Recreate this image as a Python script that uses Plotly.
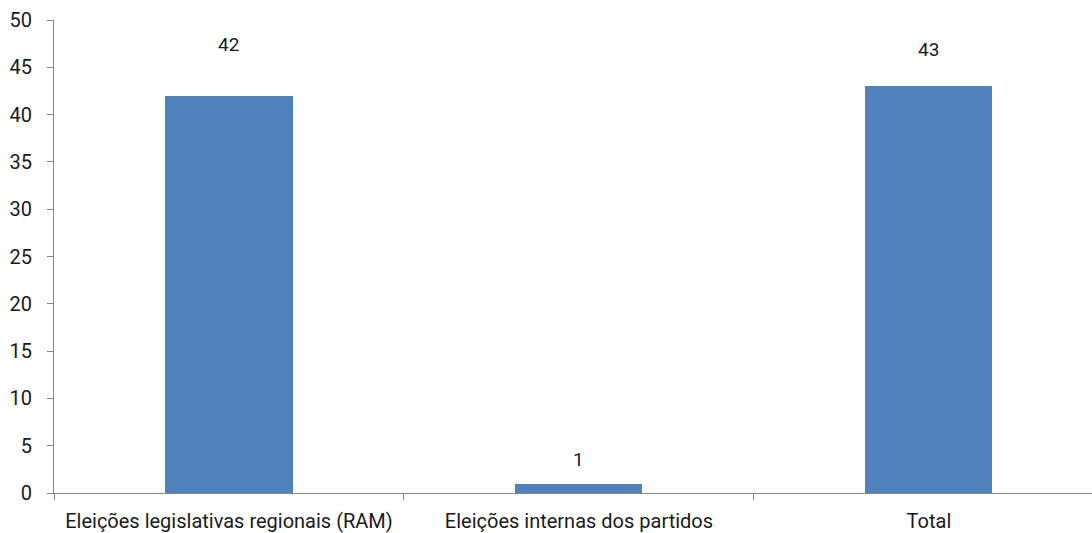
import plotly.graph_objects as go

# Number of cases per election type
categories = ["Eleições legislativas regionais (RAM)", "Eleições internas dos partidos", "Total"]
values = [42, 1, 43]

# vertical offset (px) of each value label above its bar
label_offsets = [51, 24, 37]

bar_color = "#4f81bd"
axis_color = "#868686"
text_color = "#1a1a1a"
font_family = "Roboto"

fig = go.Figure(
    go.Bar(
        x=categories,
        y=values,
        marker=dict(color=bar_color, line=dict(width=0)),
        width=0.363,
        hoverinfo="skip",
    )
)

for cat, val, off in zip(categories, values, label_offsets):
    fig.add_annotation(
        x=cat, y=val, text=str(val), showarrow=False,
        yshift=off, yanchor="middle",
        font=dict(family=font_family, size=19, color=text_color),
    )

fig.update_layout(
    width=1092, height=533,
    margin=dict(l=54, r=0, t=20, b=40),
    paper_bgcolor="white", plot_bgcolor="white",
    showlegend=False,
    font=dict(family=font_family, size=19, color=text_color),
    bargap=0,
)

fig.update_xaxes(
    range=[-0.5, 2.466],
    showline=True, linecolor=axis_color, linewidth=1,
    ticks="outside", tickson="boundaries", ticklen=6, tickcolor=axis_color,
    showgrid=False, zeroline=False,
    ticklabelstandoff=10,
    tickfont=dict(family=font_family, size=20, color=text_color),
)
fig.update_yaxes(
    range=[0, 50], dtick=5,
    showline=True, linecolor=axis_color, linewidth=1,
    ticks="outside", ticklen=6, tickcolor=axis_color,
    showgrid=False, zeroline=False,
    ticklabelstandoff=11,
    tickfont=dict(family=font_family, size=20, color=text_color),
)

fig.write_html("out.html")
